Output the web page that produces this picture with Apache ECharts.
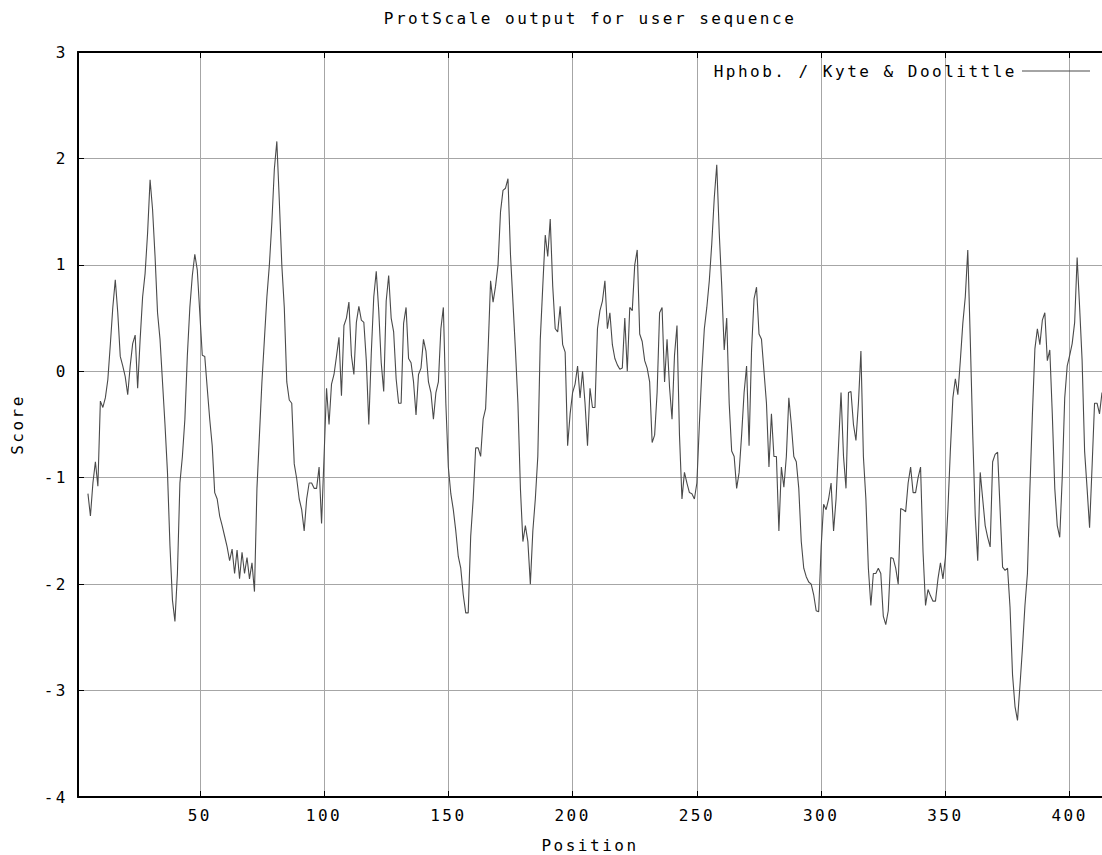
<!DOCTYPE html>
<html>
<head>
<meta charset="utf-8">
<title>ProtScale output for user sequence</title>
<script src="https://cdn.jsdelivr.net/npm/echarts@6/dist/echarts.min.js"></script>
<style>
html, body { margin: 0; padding: 0; background: #fff; }
#chart { width: 1102px; height: 855px; }
/* gnuplot bitmap font is wide and short -> spread the mono glyphs a bit */
#chart text { letter-spacing: 2.5px; }
</style>
</head>
<body>
<div id="chart"></div>
<script>
// Kyte & Doolittle hydropathy, window 9 -> first score sits on residue 5
var firstPosition = 5;
var seriesName = 'Hphob. / Kyte & Doolittle';
var scores = [
    -1.15, -1.36, -1.05, -0.85, -1.08, -0.28, -0.34, -0.25, -0.08, 0.25,   // 5
    0.6, 0.86, 0.55, 0.14, 0.05, -0.05, -0.22, 0.05, 0.26, 0.34,           // 15
    -0.16, 0.3, 0.7, 0.92, 1.3, 1.8, 1.52, 1.08, 0.55, 0.3,                // 25
    -0.1, -0.5, -0.95, -1.64, -2.15, -2.35, -1.9, -1.05, -0.8, -0.45,      // 35
    0.15, 0.6, 0.9, 1.1, 0.95, 0.55, 0.15, 0.14, -0.16, -0.45,             // 45
    -0.7, -1.14, -1.2, -1.36, -1.45, -1.55, -1.65, -1.78, -1.67, -1.9,     // 55
    -1.68, -1.95, -1.7, -1.9, -1.75, -1.95, -1.8, -2.07, -1.1, -0.6,       // 65
    -0.1, 0.3, 0.7, 1.0, 1.4, 1.9, 2.16, 1.6, 1.0, 0.6,                    // 75
    -0.1, -0.27, -0.3, -0.87, -1.01, -1.2, -1.3, -1.5, -1.2, -1.05,        // 85
    -1.05, -1.1, -1.1, -0.9, -1.43, -0.8, -0.16, -0.5, -0.12, -0.03,       // 95
    0.14, 0.32, -0.23, 0.43, 0.5, 0.65, 0.15, -0.03, 0.46, 0.61,           // 105
    0.48, 0.46, 0.1, -0.5, 0.17, 0.7, 0.94, 0.57, 0.08, -0.19,             // 115
    0.66, 0.9, 0.5, 0.37, -0.07, -0.3, -0.3, 0.45, 0.6, 0.12,              // 125
    0.08, -0.1, -0.41, -0.03, 0.03, 0.3, 0.19, -0.1, -0.2, -0.45,          // 135
    -0.2, -0.1, 0.4, 0.6, -0.3, -0.9, -1.15, -1.3, -1.5, -1.74,            // 145
    -1.85, -2.1, -2.27, -2.27, -1.55, -1.2, -0.72, -0.72, -0.8, -0.45,     // 155
    -0.35, 0.2, 0.85, 0.65, 0.8, 1.0, 1.5, 1.7, 1.72, 1.81,                // 165
    1.1, 0.65, 0.2, -0.3, -1.1, -1.6, -1.45, -1.6, -2.0, -1.5,             // 175
    -1.2, -0.8, 0.3, 0.8, 1.28, 1.08, 1.43, 0.8, 0.4, 0.37,                // 185
    0.61, 0.25, 0.18, -0.7, -0.4, -0.2, -0.12, 0.05, -0.25, 0.0,           // 195
    -0.3, -0.7, -0.16, -0.34, -0.34, 0.4, 0.57, 0.66, 0.85, 0.4,           // 205
    0.55, 0.25, 0.12, 0.06, 0.02, 0.03, 0.5, 0.0, 0.6, 0.57,               // 215
    1.0, 1.14, 0.35, 0.28, 0.1, 0.03, -0.1, -0.67, -0.6, -0.2,             // 225
    0.55, 0.6, -0.1, 0.3, -0.15, -0.45, 0.15, 0.43, -0.6, -1.2,            // 235
    -0.95, -1.05, -1.14, -1.15, -1.2, -1.05, -0.5, 0.0, 0.4, 0.6,          // 245
    0.85, 1.2, 1.63, 1.94, 1.3, 0.8, 0.2, 0.5, -0.3, -0.75,                // 255
    -0.8, -1.1, -0.95, -0.6, -0.2, 0.05, -0.7, 0.2, 0.68, 0.79,            // 265
    0.35, 0.3, 0.0, -0.3, -0.9, -0.4, -0.8, -0.8, -1.5, -0.9,              // 275
    -1.09, -0.8, -0.25, -0.5, -0.8, -0.85, -1.1, -1.6, -1.85, -1.93,       // 285
    -1.98, -2.0, -2.1, -2.25, -2.26, -1.65, -1.25, -1.3, -1.2, -1.05,      // 295
    -1.5, -1.2, -0.7, -0.2, -0.8, -1.1, -0.2, -0.19, -0.5, -0.65,          // 305
    -0.3, 0.19, -0.8, -1.2, -1.85, -2.2, -1.9, -1.9, -1.85, -1.9,          // 315
    -2.3, -2.38, -2.25, -1.75, -1.76, -1.85, -2.0, -1.29, -1.3, -1.32,     // 325
    -1.05, -0.9, -1.14, -1.14, -1.0, -0.9, -1.7, -2.2, -2.05, -2.11,       // 335
    -2.16, -2.16, -1.95, -1.8, -1.95, -1.75, -1.3, -0.74, -0.25, -0.07,    // 345
    -0.22, 0.1, 0.45, 0.7, 1.14, 0.3, -0.6, -1.36, -1.78, -0.95,           // 355
    -1.2, -1.45, -1.56, -1.65, -0.85, -0.78, -0.76, -1.3, -1.84, -1.87,    // 365
    -1.85, -2.22, -2.85, -3.15, -3.28, -2.95, -2.6, -2.2, -1.9, -1.1,      // 375
    -0.4, 0.21, 0.4, 0.25, 0.48, 0.55, 0.1, 0.2, -0.4, -1.1,               // 385
    -1.45, -1.56, -1.0, -0.25, 0.05, 0.15, 0.26, 0.46, 1.07, 0.6,          // 395
    0.1, -0.75, -1.1, -1.47, -0.9, -0.3, -0.3, -0.4, -0.2                  // 405
];

var FONT = '"DejaVu Sans Mono", monospace';
var FONT_SIZE = 16;
var GRID_COLOR = '#a6a6a6';
var LINE_COLOR = '#4a4a4a';

var points = [];
for (var i = 0; i < scores.length; i++) {
    points.push([firstPosition + i, scores[i]]);
}

var chart = echarts.init(document.getElementById('chart'), null, { renderer: 'svg' });

var option = {
    backgroundColor: '#fff',
    animation: false,
    title: {
        text: 'ProtScale output for user sequence',
        left: 590,          // centred over the plot area, not the page
        textAlign: 'center',
        top: 10,
        padding: 0,
        textStyle: { fontFamily: FONT, fontSize: FONT_SIZE, fontWeight: 'normal', color: '#000' }
    },
    legend: {
        data: [seriesName],
        right: 12,
        top: 63,
        padding: 0,
        align: 'right',
        icon: 'rect',
        itemWidth: 68,
        itemHeight: 1,
        itemGap: 0,
        textStyle: { fontFamily: FONT, fontSize: FONT_SIZE, color: '#000' }
    },
    grid: {
        left: 78,
        right: 0,
        top: 52,
        bottom: 58,
        outerBoundsMode: 'none'   // keep the plot box where it is, labels may sit outside
    },
    xAxis: [{
        type: 'value',
        position: 'bottom',
        min: 1,
        max: 413,
        splitNumber: 8,
        name: 'Position',
        nameLocation: 'middle',
        nameGap: 40,
        nameTextStyle: { fontFamily: FONT, fontSize: FONT_SIZE, color: '#000' },
        axisLine: { onZero: false, lineStyle: { color: '#000', width: 2 } },
        axisTick: { inside: true, length: 6, lineStyle: { color: '#000' } },
        axisLabel: {
            showMinLabel: false,
            showMaxLabel: false,
            margin: 10,
            fontFamily: FONT, fontSize: FONT_SIZE, color: '#000'
        },
        splitLine: { show: true, lineStyle: { color: GRID_COLOR, width: 1 } }
    }, {
        // mirrored tics on the top border
        type: 'value',
        position: 'top',
        min: 1,
        max: 413,
        splitNumber: 8,
        axisLine: { onZero: false, lineStyle: { color: '#000', width: 2 } },
        axisTick: { inside: true, length: 6, lineStyle: { color: '#000' } },
        axisLabel: { show: false },
        splitLine: { show: false }
    }],
    yAxis: {
        type: 'value',
        min: -4,
        max: 3,
        interval: 1,
        name: 'Score',
        nameLocation: 'middle',
        nameGap: 53,
        nameRotate: 90,
        nameTextStyle: { fontFamily: FONT, fontSize: FONT_SIZE, color: '#000' },
        axisLine: { show: true, onZero: false, lineStyle: { color: '#000', width: 2 } },
        axisTick: { show: true, inside: true, length: 6, lineStyle: { color: '#000' } },
        axisLabel: { margin: 10, fontFamily: FONT, fontSize: FONT_SIZE, color: '#000' },
        splitLine: { show: true, lineStyle: { color: GRID_COLOR, width: 1 } }
    },
    series: [{
        name: seriesName,
        type: 'line',
        xAxisIndex: 0,
        data: points,
        showSymbol: false,
        symbol: 'none',
        color: LINE_COLOR,
        lineStyle: { color: LINE_COLOR, width: 1.1 }
    }]
};

chart.setOption(option);
</script>
</body>
</html>
